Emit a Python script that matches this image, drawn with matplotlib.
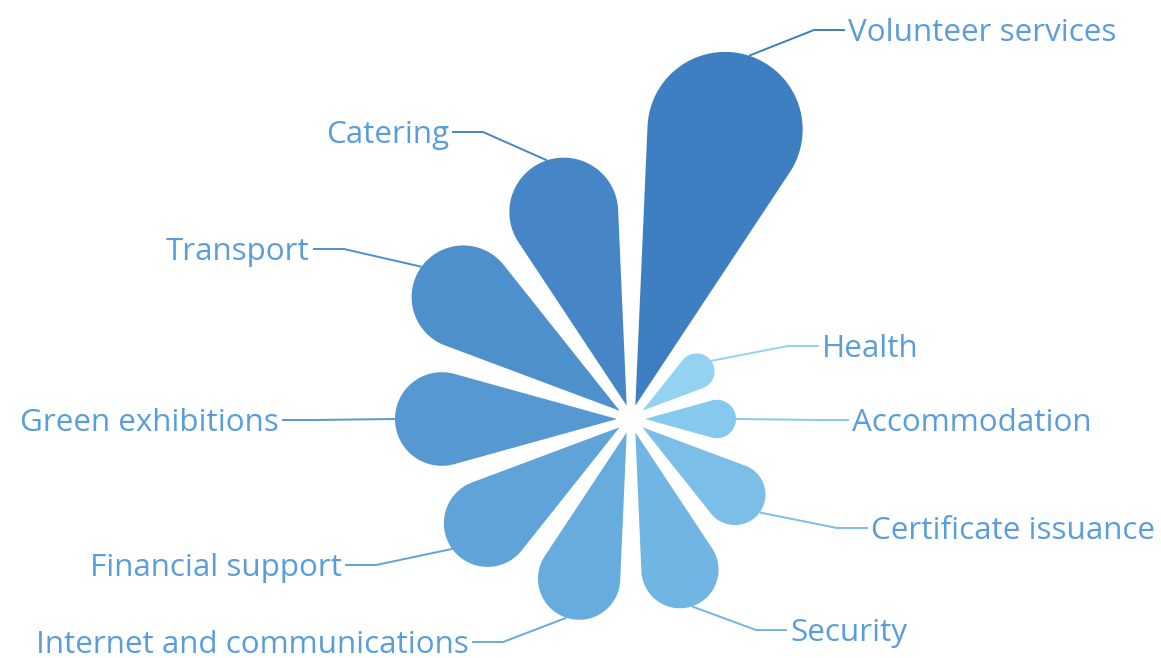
import numpy as np
import matplotlib.pyplot as plt
from matplotlib.patches import Polygon

# data (clockwise from 12 o'clock)
categories = ['Volunteer services', 'Health', 'Accommodation', 'Certificate issuance',
              'Security', 'Internet and communications', 'Financial support',
              'Green exhibitions', 'Transport', 'Catering']
values = [36.8, 8.5, 9.1, 14.5, 18.3, 19.5, 20.7, 22.2, 24.5, 25.8]
colors = ['#3e7fc1', '#93d3f1', '#86c9ee', '#7bbfe9', '#71b5e4',
          '#67acdf', '#5fa3d9', '#5699d2', '#4e90cb', '#4686c6']

# label anchors (x, y, side), in pixels
label_pos = [(848, 30, 'left'), (822, 346, 'left'), (852, 420, 'left'),
             (871, 528, 'left'), (790, 630, 'left'), (469, 642, 'right'),
             (342, 565, 'right'), (279, 420, 'right'), (310, 249, 'right'),
             (449, 132, 'right')]

W, H = 1161, 658
center = np.array([631.0, 419.0])
px_per_unit = 10.0
r0 = 14.0                      # apex offset from centre
half = np.radians(15.5)        # petal half angle
label_color = '#5a9ddc'
font = 'Open Sans'
fsize = 22.6

fig = plt.figure(figsize=(W / 100, H / 100), dpi=100)
ax = fig.add_axes([0, 0, 1, 1])
ax.set_xlim(0, W)
ax.set_ylim(H, 0)
ax.axis('off')

n = len(values)
step = 360.0 / n
for k, (name, val, col) in enumerate(zip(categories, values, colors)):
    a = np.radians(step / 2 + k * step)
    u = np.array([np.sin(a), -np.cos(a)])
    A = center + r0 * u
    R = val * px_per_unit
    d = R / (1 + np.sin(half))
    c = d * np.sin(half)
    C = A + d * u
    psi = np.arctan2(u[1], u[0])
    phi = np.linspace(psi - (np.pi / 2 + half), psi + (np.pi / 2 + half), 120)
    arc = np.column_stack([C[0] + c * np.cos(phi), C[1] + c * np.sin(phi)])
    pts = np.vstack([A, arc])
    ax.add_patch(Polygon(pts, closed=True, facecolor=col, edgecolor='none'))

    # leader line + label
    tip = A + R * u
    tx, ty, side = label_pos[k]
    if side == 'left':
        elbow, end = tx - 34, tx - 3
    else:
        elbow, end = tx + 34, tx + 3
    ax.plot([tip[0], elbow, end], [tip[1], ty, ty], color=col, lw=1.4,
            solid_capstyle='butt')
    ax.text(tx, ty + 11, name, ha=side, va='baseline', fontsize=fsize,
            color=label_color, family=font)

fig.savefig('out.png', dpi=100, facecolor='white')
